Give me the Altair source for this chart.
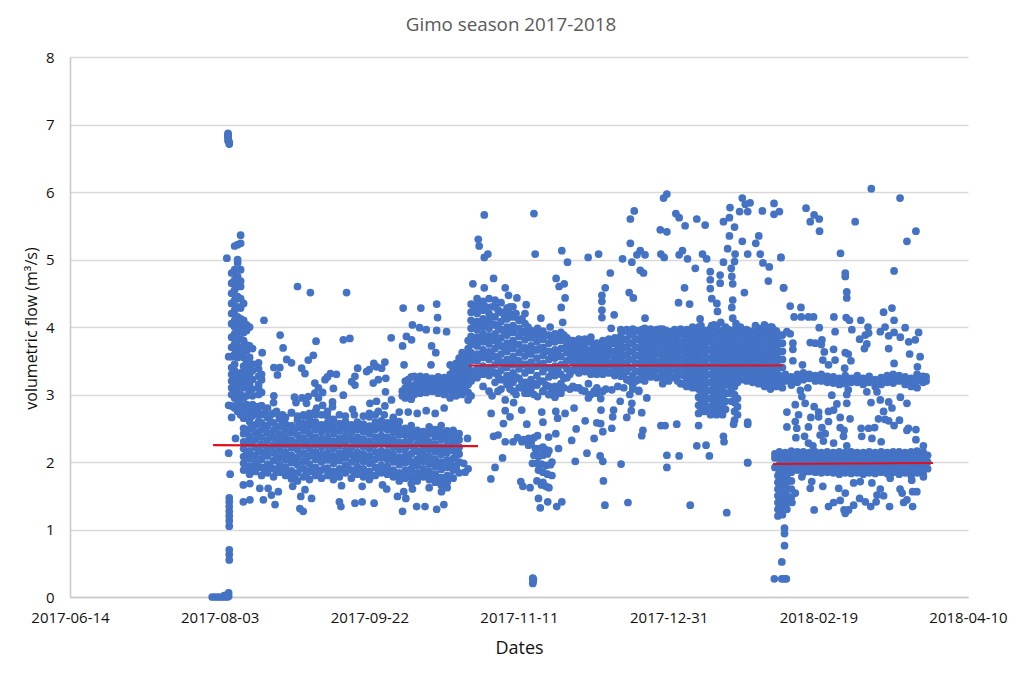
import altair as alt
import pandas as pd

tick_labels = ['2017-06-14','2017-08-03','2017-09-22','2017-11-11','2017-12-31','2018-02-19','2018-04-10']
y_ticks = [0,1,2,3,4,5,6,7,8]

# values: (days since 2017-06-14, [flows])
start_cols = [
 (47.5,[0]),(48.5,[0]),(49.5,[0]),(50.5,[0]),(51.5,[0,0.02]),(52.5,[0,0.03]),(53,[0.01,0.06]),
 (52.8,[6.87,6.85,6.82,6.8,6.76]),(53.2,[6.74,6.71]),
 (53.2,[0.55,0.63,0.7,1.05,1.13,1.2,1.27,1.34,1.41,1.47]),
 (53,[2.13,2.84,3.56]),(53.5,[1.82]),(54,[2.66]),(55.3,[2.35]),(52.4,[5.02]),
 (54,[2.83,3.0,3.1,3.2,3.3,3.4,3.56,3.7,3.85,4.05,4.2,4.35,4.5,4.65,4.8]),
 (55,[2.8,2.95,3.05,3.15,3.25,3.35,3.45,3.6,3.75,3.9,4.0,4.1,4.25,4.4,4.55,4.7,4.85,5.2]),
 (56,[2.75,2.9,3.0,3.1,3.2,3.3,3.55,3.65,3.8,3.92,4.05,4.15,4.3,4.45,4.6,4.75,4.95,5.0,5.22]),
 (57,[2.7,2.85,3.0,3.12,3.22,3.32,3.6,3.7,3.82,3.95,4.0,4.12,4.28,4.42,4.6,4.68,4.85,5.36,5.24]),
 (58,[2.65,2.8,2.95,3.1,3.2,3.3,3.42,3.55,3.65,3.8,3.92,4.0,4.1,4.35]),
 (59,[2.72,2.85,2.98,3.1,3.25,3.35,3.5,3.65,3.73,3.95,4.03]),
 (60,[2.7,2.82,3.02,3.15,3.28,3.38,3.45,3.55,3.72,4.0]),
 (61,[2.75,2.85,2.98,3.08,3.22,3.35,3.45,3.68]),
 (63,[2.72,2.82,3.0,3.1,3.15,3.27,3.38,3.47]),
 (64,[2.7,2.83,3.03,3.22,3.3]),
]
band_a_cols = [
 (58,[1.88,1.98,2.08,2.2,2.3,2.42,2.5]),(60,[1.82,1.94,2.05,2.16,2.27,2.38,2.49,2.6]),
 (62,[1.86,1.99,2.1,2.22,2.33,2.44,2.55]),(64,[1.8,1.92,2.04,2.15,2.26,2.37,2.48,2.58]),
 (66,[1.84,1.97,2.09,2.2,2.32,2.43,2.54,2.66]),(68,[1.78,1.9,2.02,2.14,2.25,2.36,2.47,2.58,2.72]),
 (70,[1.85,1.96,2.07,2.19,2.3,2.41,2.52,2.64]),(72,[1.8,1.92,2.03,2.15,2.26,2.37,2.47,2.56]),
 (74,[1.75,1.87,1.99,2.1,2.21,2.32,2.43,2.54]),(76,[1.72,1.84,1.96,2.07,2.18,2.29,2.4,2.51,2.62]),
 (78,[1.78,1.9,2.01,2.13,2.24,2.35,2.46,2.57,2.68]),(80,[1.74,1.86,1.97,2.09,2.2,2.31,2.42,2.53,2.63]),
 (82,[1.8,1.92,2.04,2.15,2.26,2.37,2.48,2.59,2.7]),(84,[1.76,1.88,2.0,2.11,2.22,2.33,2.44,2.55]),
 (86,[1.8,1.91,2.03,2.14,2.25,2.36,2.47,2.58,2.68]),(88,[1.74,1.86,1.98,2.09,2.2,2.31,2.42,2.53,2.63]),
 (90,[1.78,1.9,2.02,2.13,2.24,2.35,2.46,2.57]),(92,[1.84,1.95,2.06,2.17,2.28,2.39,2.5,2.6]),
 (94,[1.76,1.88,2.0,2.11,2.22,2.33,2.44,2.55]),(96,[1.82,1.93,2.04,2.15,2.26,2.37,2.48,2.59]),
 (98,[1.78,1.9,2.01,2.12,2.23,2.34,2.45,2.56]),(100,[1.74,1.86,1.98,2.09,2.2,2.31,2.42,2.53,2.67]),
 (102,[1.8,1.92,2.04,2.15,2.26,2.37,2.48,2.59,2.7]),(104,[1.84,1.95,2.06,2.17,2.28,2.39,2.5,2.61]),
 (106,[1.82,1.93,2.04,2.15,2.26,2.37,2.48,2.58]),(108,[1.78,1.88,2.0,2.11,2.22,2.33,2.44,2.56,2.63]),
 (110,[1.72,1.84,1.96,2.07,2.18,2.29,2.4,2.5,2.6]),(112,[1.76,1.88,1.99,2.1,2.2,2.3,2.4,2.5]),
 (114,[1.78,1.9,2.0,2.12,2.24,2.35,2.44,2.54]),(116,[1.72,1.84,1.95,2.04,2.16,2.27,2.37,2.47]),
 (118,[1.78,1.9,2.01,2.12,2.22,2.33,2.45]),(120,[1.74,1.86,1.97,2.08,2.19,2.3,2.42,2.52]),
 (122,[1.7,1.82,1.93,2.04,2.15,2.26,2.37,2.48]),(124,[1.66,1.77,1.89,2.0,2.11,2.22,2.33,2.44,2.54]),
 (126,[1.7,1.8,1.92,2.03,2.14,2.25,2.35,2.46]),(128,[1.76,1.88,2.05,2.17,2.28,2.38,2.47]),
 (130,[1.84,2.0,2.12,2.22,2.33,2.42]),
]
band_a_fill = [
 (59,[1.92,2.12,2.3,2.46]),(61,[1.9,2.1,2.32,2.52]),(63,[1.93,2.16,2.38,2.6]),(65,[1.88,2.1,2.26,2.48]),(67,[1.92,2.14,2.38,2.6]),
 (69,[1.86,2.08,2.3,2.52]),(71,[1.9,2.12,2.34,2.58]),(73,[1.84,2.06,2.3,2.5]),(75,[1.8,2.02,2.26,2.48]),(77,[1.9,2.12,2.34,2.56]),
 (79,[1.82,2.06,2.28,2.52]),(81,[1.88,2.12,2.36,2.58]),(83,[1.84,2.08,2.3,2.52]),(85,[1.9,2.1,2.32,2.5]),(87,[1.84,2.08,2.3,2.52]),
 (89,[1.82,2.04,2.28,2.48]),(91,[1.88,2.08,2.3,2.52]),(93,[1.9,2.12,2.34,2.54]),(95,[1.86,2.08,2.3,2.5]),(97,[1.84,2.06,2.28,2.52]),
 (99,[1.84,2.04,2.28,2.5]),(101,[1.8,2.02,2.26,2.48]),(103,[1.88,2.1,2.32,2.54]),(105,[1.88,2.1,2.32,2.56]),(107,[1.84,2.08,2.3,2.52]),
 (109,[1.82,2.06,2.28,2.48]),(111,[1.78,2.02,2.24,2.44]),(113,[1.82,2.05,2.26,2.46]),(115,[1.8,2.0,2.2,2.4]),(117,[1.8,2.08,2.3,2.42]),
 (119,[1.84,2.06,2.26,2.38]),(121,[1.8,2.02,2.24,2.46]),(123,[1.76,1.98,2.2,2.42]),(125,[1.74,1.96,2.18,2.4]),(127,[1.78,1.98,2.2,2.42]),(129,[1.94,2.1,2.3]),
]
a_upper_x = [61,62,63,64,65,66,67,68,69,70,71,72,74,76,78,80,82,84,86,90,92,95,98,100,103,105,108,110,113,116,119,122,125]
a_upper_y = [2.68,2.82,2.7,2.83,2.72,2.8,2.7,2.88,2.75,2.68,2.7,2.66,2.73,2.68,2.7,2.72,2.75,2.7,2.75,2.7,2.68,2.7,2.68,2.72,2.75,2.7,2.66,2.74,2.74,2.72,2.76,2.72,2.8]
a_mid_x = [76.0,80.3,92.4,64.8,70.2,71.2,64.2,82.2,91.3,93.5,81.3,79.6,72.4,74.0,68.1,70.1,69.3,77.4,78.5,87.0,85.2,81.8,88.0,84.4,91.3,81.8,79.6,68.1,75.5,79.0,84.4,87.7,87.7,82.4,74.0,94.4,100.2,102.4,107.4,105.2,105.4,96.1,99.1,101.5,105.2,102.4,104.1,95.2,94.1,95.2,101.3,103.0,105.5,100.0,107.3,111.3,117.2,122.5,122.8,111.1,112.4,114.1,111.6,114.4,116.8,119.0,122.5,125.8,120.8,122.2,120.6,86.0,83.0,83.0,77.5,75.0,89.0]
a_mid_y = [4.6,4.51,4.51,4.1,3.88,3.69,3.62,3.79,3.81,3.83,3.58,3.51,3.52,3.47,3.4,3.4,3.29,3.39,3.31,3.31,3.22,3.17,3.09,3.03,2.99,3.02,2.97,2.98,2.88,2.87,2.84,2.89,2.82,2.8,2.73,2.78,2.87,2.9,2.92,2.83,3.04,3.39,3.34,3.46,3.48,3.41,3.39,3.27,3.19,3.14,3.17,3.22,3.24,3.37,3.84,4.28,4.28,4.34,4.14,3.72,3.86,3.81,3.44,4.03,3.99,3.96,3.95,3.93,3.72,3.62,3.44,3.26,3.1,2.95,2.95,2.96,3.3]
a_ledge_cols = [
 (111,[2.98,3.05]),(112,[2.95,3.1,3.2]),(113,[3.0,3.13,3.22]),(114,[2.93,3.06,3.26]),(115,[3.0,3.14,3.27]),
 (116,[3.07,3.2]),(117,[3.02,3.14,3.27]),(118,[3.08,3.2]),(119,[3.03,3.15,3.26]),(120,[3.09,3.2]),(121,[3.05,3.15,3.24]),(122,[3.08,3.2]),(123,[3.02,3.14,3.26]),(124,[3.07,3.2]),(125,[3.0,3.13,3.25]),
 (126,[3.06,3.18]),(127,[2.95,3.08,3.2,3.3,3.44]),(128,[3.02,3.14,3.26,3.38]),(129,[2.98,3.1,3.22,3.34,3.46]),(130,[3.06,3.18,3.3,3.42,3.54]),(131,[3.0,3.12,3.24,3.36,3.5,3.62]),
 (132,[3.08,3.2,3.32,3.46,3.58]),(133,[2.92,3.03,3.15,3.28,3.4,3.52,3.68,3.8]),
]
a_low_x = [57.9,60.1,64.6,68.5,57.9,60.1,63.4,66.2,69.6,67.3,77.1,80.7,76.8,77.9,74.4,78.5,90.7,97.6,90.0,90.5,95.2,97.6,101.6,104.4,105.8,109.4,111.5,112.2,114.4,111.1,115.8,118.6,122.5,124.9,124.1,126.0,129.0,131.5,132.0,133.0,132.8,129.5,120.0,114.0]
a_low_y = [1.41,1.44,1.44,1.37,1.66,1.68,1.61,1.61,1.56,1.51,1.49,1.46,1.31,1.27,1.64,1.59,1.65,1.64,1.41,1.34,1.39,1.41,1.39,1.66,1.6,1.49,1.56,1.46,1.6,1.27,1.34,1.34,1.3,1.37,1.56,1.62,1.92,1.98,1.85,1.9,2.35,2.14,1.62,1.68]

b_dense_cols = [
 (134,[2.98,3.2,3.35,3.5,3.62,3.74,3.86,3.98,4.1,4.22,4.34]),(136,[3.25,3.38,3.5,3.6,3.72,3.85,3.96,4.08,4.2,4.32,4.42]),
 (138,[3.12,3.3,3.42,3.55,3.66,3.78,3.9,4.0,4.12,4.25,4.38]),(140,[3.05,3.28,3.4,3.52,3.63,3.75,3.87,3.98,4.1,4.2,4.42]),
 (142,[3.18,3.32,3.44,3.56,3.68,3.8,3.9,4.03,4.15,4.3,4.4]),(144,[3.08,3.22,3.36,3.48,3.6,3.72,3.84,3.96,4.08,4.22,4.36]),
 (146,[3.15,3.28,3.4,3.52,3.64,3.76,3.88,4.0,4.12,4.28]),(148,[3.05,3.18,3.32,3.44,3.56,3.68,3.8,3.92,4.02,4.15,4.3]),
 (150,[3.1,3.24,3.38,3.5,3.62,3.74,3.86,3.98,4.1]),(152,[3.02,3.18,3.32,3.45,3.57,3.69,3.81,3.93,4.05,4.2]),
 (154,[3.08,3.22,3.36,3.48,3.6,3.72,3.84,3.95]),(156,[3.14,3.28,3.42,3.54,3.66,3.78,3.88]),
 (158,[3.05,3.2,3.34,3.46,3.58,3.7,3.82,3.94]),(160,[3.0,3.12,3.26,3.4,3.52,3.64,3.76,3.88]),
 (162,[2.98,3.12,3.28,3.42,3.54,3.66,3.78,3.9]),(164,[3.02,3.16,3.3,3.44,3.56,3.68,3.8,3.92]),
 (166,[3.25,3.38,3.5,3.62,3.74,3.84]),(168,[3.12,3.36,3.48,3.6,3.72,3.8]),(170,[3.1,3.32,3.44,3.56,3.68,3.82]),
 (172,[3.05,3.34,3.46,3.58,3.7,3.82]),(174,[3.3,3.42,3.54,3.66,3.78,3.85]),(176,[3.02,3.3,3.42,3.54,3.66,3.76]),
 (178,[3.05,3.3,3.44,3.56,3.68,3.8]),(180,[3.32,3.45,3.57,3.69,3.82]),(182,[3.28,3.4,3.52,3.64,3.76,3.84]),
 (184,[3.27,3.39,3.51,3.63,3.75,3.87,3.96]),(186,[3.22,3.34,3.46,3.58,3.7,3.82,3.96]),(188,[3.14,3.28,3.4,3.52,3.64,3.76,3.88,3.97]),
 (190,[3.06,3.22,3.34,3.46,3.58,3.7,3.82,3.94]),(192,[3.2,3.32,3.44,3.56,3.68,3.8,3.92,3.98]),(194,[3.26,3.38,3.5,3.62,3.74,3.86,3.97]),
 (196,[3.25,3.37,3.49,3.61,3.73,3.85,3.96]),(198,[3.16,3.3,3.42,3.54,3.66,3.78,3.9,3.97]),(200,[3.2,3.33,3.45,3.57,3.69,3.81,3.93]),
 (202,[3.25,3.37,3.49,3.61,3.73,3.85,3.96]),(204,[3.16,3.3,3.42,3.54,3.66,3.78,3.9,3.97]),(206,[3.12,3.24,3.36,3.48,3.6,3.72,3.84,3.96]),
 (208,[3.1,3.22,3.34,3.46,3.58,3.7,3.82,3.94,4.0]),(210,[2.72,2.84,2.96,3.08,3.2,3.32,3.44,3.56,3.68,3.8,3.92,4.0]),
 (212,[2.75,2.88,3.0,3.12,3.24,3.36,3.48,3.6,3.72,3.84,3.95]),(214,[2.7,2.82,2.94,3.06,3.18,3.3,3.42,3.54,3.66,3.78,3.88]),
 (216,[2.7,2.85,2.98,3.1,3.22,3.34,3.46,3.58,3.7,3.8,3.92]),(218,[2.7,2.84,2.96,3.1,3.24,3.36,3.48,3.6,3.72,3.84,3.95]),
 (220,[3.02,3.14,3.26,3.38,3.5,3.62,3.74,3.86,3.96]),(222,[2.62,2.75,2.88,3.0,3.12,3.24,3.36,3.48,3.6,3.72,3.84,3.96]),
 (224,[3.22,3.34,3.46,3.58,3.7,3.82,3.94]),(226,[3.2,3.3,3.42,3.54,3.66,3.78,3.9,3.96]),
 (228,[3.18,3.3,3.42,3.54,3.66,3.78,3.9]),(230,[3.16,3.28,3.4,3.52,3.64,3.76,3.88,3.98]),
 (232,[3.12,3.24,3.36,3.48,3.6,3.72,3.84,3.94]),(234,[3.08,3.2,3.32,3.44,3.56,3.68,3.8,3.92,4.0]),
 (236,[3.12,3.22,3.34,3.46,3.58,3.7,3.82,3.94]),(238,[3.1,3.2,3.4,3.52,3.64,3.76,3.88]),
]
b_fill = [
 (135,[3.3,3.55,3.8,4.05,4.3]),(137,[3.32,3.58,3.82,4.06,4.28]),(139,[3.36,3.6,3.84,4.08,4.3]),(141,[3.34,3.58,3.82,4.04,4.3]),(143,[3.28,3.52,3.76,4.0,4.25]),
 (145,[3.22,3.46,3.7,3.94,4.18]),(147,[3.24,3.48,3.72,3.94,4.2]),(149,[3.26,3.5,3.74,3.97,4.2]),(151,[3.18,3.44,3.68,3.92,4.12]),(153,[3.12,3.38,3.63,3.87,4.0]),
 (155,[3.16,3.42,3.66,3.9]),(157,[3.2,3.44,3.68,3.9]),(159,[3.14,3.4,3.64,3.88]),(161,[3.06,3.32,3.58,3.82]),(163,[3.06,3.36,3.6,3.84]),(165,[3.24,3.44,3.68,3.88]),
 (167,[3.3,3.52,3.68,3.8]),(169,[3.38,3.52,3.66,3.78]),(171,[3.38,3.5,3.62,3.76]),(173,[3.4,3.52,3.64,3.78]),(175,[3.36,3.48,3.6,3.72]),(177,[3.34,3.48,3.62,3.74]),
 (179,[3.36,3.5,3.64,3.76]),(181,[3.34,3.46,3.6,3.76]),(183,[3.33,3.46,3.58,3.72,3.82]),(185,[3.3,3.45,3.57,3.69,3.81,3.94]),(187,[3.2,3.4,3.52,3.64,3.76,3.9]),
 (189,[3.2,3.34,3.46,3.58,3.7,3.82,3.95]),(191,[3.26,3.38,3.5,3.62,3.74,3.86,3.96]),(193,[3.28,3.41,3.53,3.65,3.77,3.89]),(195,[3.3,3.43,3.55,3.67,3.79,3.91]),
 (197,[3.26,3.38,3.5,3.62,3.74,3.86,3.97]),(199,[3.24,3.36,3.48,3.6,3.72,3.84,3.95]),(201,[3.26,3.39,3.51,3.63,3.75,3.87]),(203,[3.2,3.32,3.44,3.56,3.68,3.8,3.92]),
 (205,[3.16,3.28,3.4,3.52,3.64,3.76,3.88]),(207,[3.14,3.28,3.4,3.52,3.64,3.76,3.9]),(209,[3.16,3.28,3.4,3.52,3.64,3.76,3.88]),
 (211,[2.78,2.9,3.02,3.14,3.26,3.38,3.5,3.62,3.74,3.86]),(213,[2.8,2.94,3.06,3.18,3.3,3.42,3.54,3.66,3.78,3.9]),(215,[2.76,2.9,3.02,3.14,3.26,3.38,3.5,3.62,3.74,3.84]),
 (217,[2.78,2.92,3.04,3.16,3.28,3.4,3.52,3.64,3.76,3.86]),(219,[2.78,2.9,3.02,3.16,3.3,3.42,3.54,3.66,3.78,3.9]),(221,[2.9,3.08,3.2,3.32,3.44,3.56,3.68,3.8,3.9]),
 (223,[2.7,2.82,2.94,3.18,3.3,3.42,3.54,3.66,3.78,3.9]),(225,[3.26,3.38,3.52,3.64,3.76,3.88]),(227,[3.24,3.36,3.48,3.6,3.72,3.84,3.94]),(229,[3.22,3.36,3.48,3.6,3.72,3.84,3.94]),
 (231,[3.2,3.34,3.46,3.58,3.7,3.82,3.93]),(233,[3.18,3.3,3.42,3.54,3.66,3.78,3.9]),(235,[3.14,3.26,3.38,3.5,3.62,3.74,3.86,3.96]),(237,[3.16,3.28,3.4,3.52,3.64,3.76,3.88]),
]
b_up_x = [138.4,155.0,136.4,136.7,138.4,139.6,155.4,164.3,166.2,173.1,176.6,180.5,184.6,187.7,188.5,187.2,187.2,190.5,192.1,189.4,190.5,191.6,198.3,199.4,197.2,199.4,202.4,203.5,205.5,209.4,212.2,197.4,198.5,203.5,204.6,206.3,208.9,211.3,212.7,218.3,220.5,220.3,222.0,220.3,219.7,218.3,222.2,222.0,220.9,224.6,227.2,225.6,223.7,226.4,231.3,235.2,235.2,237.0,224.6,229.1,230.1,226.4,230.6,231.5,233.6,233.3,237.5,238.4,225.3,221.1,221.4,213.9,213.9,213.9,217.2,217.2,205.3,203.3,207.0,214.4,216.1,216.3,221.4,221.1,221.4,210.5,217.4,214.4,178.8,177.7,177.7,177.7,177.7,181.8,180.8,186.8,188.2,192.1,162.4,163.4,165.1,165.4,164.1,164.6,157.3,160.4,156.2,134.6,141.5,138.4,145.4,146.5,147.0,149.3,152.4,210.8,214.0,216.0,215.2,222.5,219.0,224.0,229.0,232.0,234.5]
b_up_y = [5.66,5.68,5.3,5.2,5.03,5.08,5.08,5.13,4.96,5.03,5.08,4.8,5.01,4.96,5.72,5.6,5.24,5.13,5.07,5.07,4.84,4.8,5.91,5.97,5.44,5.41,5.68,5.62,5.5,5.6,5.51,5.08,5.03,5.07,5.13,5.01,4.87,5.08,5.01,5.56,5.77,5.62,5.48,5.35,5.16,4.96,5.08,4.97,4.87,5.91,5.84,5.82,5.71,5.71,5.72,5.83,5.67,5.71,5.27,5.24,5.35,5.08,5.08,4.95,4.89,4.68,5.03,4.58,4.51,4.75,4.64,4.82,4.7,4.57,4.77,4.65,4.58,4.36,4.34,4.42,4.35,4.23,4.4,4.29,4.13,4.12,4.07,4.02,4.58,4.47,4.38,4.25,4.14,4.18,3.98,4.51,4.43,4.13,4.72,4.6,4.64,4.43,4.29,4.07,4.13,4.0,3.98,4.64,4.72,4.58,4.58,4.47,4.3,4.43,4.33,4.02,3.98,4.0,4.03,4.05,4.0,4.0,4.02,4.03,4.0]
b_down_x = [140.7,145.4,148.2,145.4,150.9,147.0,144.8,152.6,157.6,158.0,156.2,162.3,162.9,165.4,168.4,172.1,169.1,177.4,181.6,181.3,183.8,187.7,187.5,191.0,177.3,178.0,181.0,175.1,191.4,191.0,197.4,198.8,202.7,210.0,221.7,226.4,173.2,173.2,175.1,177.3,181.0,192.7,141.5,145.4,153.2,153.2,151.5,156.2,159.9,162.3,167.6,144.5,142.0,140.6,150.6,151.3,153.7,156.5,157.1,159.6,162.6,164.3,178.7,186.4,207.2,219.4,178.2,184.1,172.7,168.8,177.1,178.0,163.2,199.4,203.5,199.4,209.4,212.5,213.6,226.4,218.3,218.5,154.6,154.7,154.8,154.6,154.0,155.0,154.0,155.5,156.0,157.0,158.0,159.0,160.0,155.0,156.5,158.0,159.5,161.0,156.0,157.5,159.0,160.5,156.5,158.0,159.5,161.0,154.5,156.0,158.0,157.5,159.0,160.0,148.0,149.5,143.0,151.0,176.0,186.0,188.0,190.0,161.5,163.5,165.0,167.0,169.0,171.0,174.0,176.0,179.0,183.0,185.0,187.0,141.0,143.0,147.0,149.0,151.0,153.0,155.0,158.0,160.0,162.0]
b_down_y = [2.72,2.92,2.88,2.76,2.77,2.67,2.57,2.56,2.74,2.59,2.97,2.75,2.65,2.72,2.8,2.61,2.49,2.77,2.77,2.67,2.9,2.87,2.76,2.73,2.57,2.45,2.5,2.35,2.47,2.39,2.54,2.54,2.56,2.54,2.56,2.59,3.16,2.95,3.05,2.94,3.07,2.95,2.38,2.3,2.35,2.25,2.33,2.39,2.37,2.42,2.32,2.06,1.92,1.75,1.71,1.64,1.62,1.46,1.32,1.41,1.34,1.41,1.36,1.4,1.36,1.25,1.72,1.97,2.13,2.01,2.09,2.01,2.2,2.1,2.09,1.92,2.24,2.25,2.09,1.99,2.38,2.3,0.2,0.23,0.26,0.28,2.3,2.36,2.27,2.2,2.18,2.2,2.22,2.18,2.17,2.1,2.08,2.1,2.12,2.0,1.98,1.97,1.95,1.96,1.88,1.85,1.82,1.8,1.98,1.72,1.7,1.66,1.64,1.62,2.3,2.36,2.4,2.3,2.58,2.66,3.08,3.05,3.0,3.02,3.1,3.08,3.1,3.06,3.0,3.1,3.08,3.12,3.1,3.0,2.98,3.05,3.08,3.0,3.1,3.02,3.0,3.05,3.0,2.96]

c_band_hi_cols = [
 (239,[3.2,3.3]),(241,[3.14,3.26]),(243,[3.18,3.3]),(245,[3.22,3.32]),(247,[3.24,3.3]),(249,[3.2,3.28]),(251,[3.2,3.3]),
 (253,[3.18,3.27]),(255,[3.17,3.26]),(257,[3.15,3.24]),(259,[3.16,3.28]),(261,[3.18,3.24]),(263,[3.18,3.28]),(265,[3.15,3.24]),
 (267,[3.18,3.27]),(269,[3.12,3.22]),(271,[3.15,3.25]),(273,[3.18,3.28]),(275,[3.17,3.3]),(277,[3.2,3.28]),(279,[3.15,3.26]),
 (281,[3.12,3.24]),(283,[3.1,3.2,3.3]),(285,[3.18,3.27]),(286,[3.2,3.26]),
 (240,[3.24]),(242,[3.22]),(244,[3.26]),(246,[3.27]),(248,[3.26]),(250,[3.24]),(252,[3.24]),(254,[3.22]),(256,[3.2]),(258,[3.22]),(260,[3.2]),(262,[3.22]),
 (264,[3.2]),(266,[3.22]),(268,[3.2]),(270,[3.2]),(272,[3.22]),(274,[3.24]),(276,[3.24]),(278,[3.22]),(280,[3.2]),(282,[3.18]),(284,[3.22]),
]
c_band_lo_cols = [
 (235.5,[1.92,2.06,2.12]),(237,[1.85,1.96,2.07,2.15]),(239,[1.87,1.98,2.08,2.14]),(241,[1.85,1.96,2.06,2.16]),
 (243,[1.88,1.98,2.08,2.15]),(245,[1.84,1.95,2.06,2.15]),(247,[1.86,1.97,2.07,2.14]),(249,[1.85,1.96,2.06,2.15]),
 (251,[1.84,1.94,2.05,2.14]),(253,[1.85,1.96,2.07,2.15]),(255,[1.84,1.95,2.05,2.14]),(257,[1.82,1.94,2.05,2.15]),
 (259,[1.84,1.95,2.06,2.14]),(261,[1.83,1.94,2.05,2.15]),(263,[1.84,1.96,2.06,2.14]),(265,[1.82,1.95,2.05,2.14]),
 (267,[1.84,1.94,2.06,2.15]),(269,[1.83,1.95,2.05,2.14]),(271,[1.85,1.96,2.06,2.15]),(273,[1.83,1.94,2.05,2.14]),
 (275,[1.85,1.96,2.07,2.15]),(277,[1.82,1.94,2.05,2.15]),(279,[1.84,1.95,2.06,2.14]),(281,[1.8,1.93,2.04,2.15]),
 (283,[1.84,1.95,2.06,2.16]),(285,[1.82,1.94,2.05,2.15]),(286.5,[1.9,2.0,2.1]),
 (238,[1.9,2.02,2.1]),(240,[1.9,2.01,2.11]),(242,[1.92,2.02,2.12]),(244,[1.9,2.0,2.1]),(246,[1.9,2.02,2.11]),(248,[1.91,2.01,2.1]),(250,[1.89,2.0,2.1]),
 (252,[1.89,2.0,2.1]),(254,[1.9,2.0,2.1]),(256,[1.88,2.0,2.1]),(258,[1.89,2.0,2.1]),(260,[1.88,2.0,2.1]),(262,[1.9,2.0,2.1]),(264,[1.88,2.0,2.1]),
 (266,[1.89,2.0,2.1]),(268,[1.88,2.0,2.1]),(270,[1.9,2.0,2.1]),(272,[1.89,2.0,2.1]),(274,[1.9,2.01,2.1]),(276,[1.88,2.0,2.1]),(278,[1.89,2.0,2.1]),
 (280,[1.87,2.0,2.1]),(282,[1.89,2.0,2.1]),(284,[1.88,2.0,2.1]),
]
c_left_cols = [
 (236.5,[1.2,1.3,1.4,1.5,1.6,1.7,1.8]),(238,[1.22,1.32,1.42,1.52,1.62,1.72,1.82]),(239.5,[1.3,1.4,1.5,1.6,1.7,1.8]),
 (241,[1.48,1.6,1.72]),(238.7,[1.02,0.94,0.76]),(237.8,[0.52,0.27]),(235.3,[0.27]),(239.3,[0.27]),(238.6,[0.27]),
]
c_x = [267.7,277.3,245.9,248.6,250.3,247.3,250.4,262.3,282.6,279.6,257.4,275.3,259.0,259.0,259.5,259.5,237.5,238.4,240.6,244.2,241.9,244.3,246.7,248.4,255.2,259.3,260.4,264.2,271.8,274.6,275.3,250.3,255.6,261.2,266.6,266.8,265.7,263.8,266.2,265.4,270.7,272.3,275.3,273.5,279.0,283.5,277.4,280.2,282.4,273.5,280.5,284.0,275.3,283.1,239.5,240.6,241.5,241.5,241.5,244.7,247.3,249.0,251.2,251.0,252.0,251.5,255.1,255.6,253.4,259.0,260.0,260.9,258.8,244.0,246.5,244.5,245.6,242.3,239.5,243.4,248.6,250.1,250.1,247.5,246.7,242.8,239.5,242.3,254.5,256.2,253.4,255.1,257.3,253.4,251.2,259.5,259.5,260.0,260.6,257.3,258.6,258.4,242.5,245.4,246.7,248.2,250.6,252.3,251.7,255.1,259.5,264.3,266.8,268.8,264.5,267.9,271.0,266.2,269.6,267.6,270.7,273.5,274.6,271.8,270.1,272.3,273.5,275.3,277.1,277.4,279.6,279.6,280.1,282.6,282.6,285.1,244.5,242.3,241.2,248.6,247.3,251.5,247.8,253.4,255.1,257.3,256.8,259.0,261.8,264.0,267.9,259.0,258.6,260.1,261.8,263.8,265.7,267.5,269.3,270.7,271.8,273.8,269.6,274.0,277.3,278.0,278.5,279.6,281.5,281.5,282.9,281.2,285.1,226.4,226.4]
c_y = [6.05,5.91,5.76,5.66,5.6,5.56,5.42,5.56,5.42,5.27,5.09,4.83,4.8,4.75,4.52,4.43,5.03,4.58,4.31,4.29,4.15,4.15,4.15,4.15,4.15,4.14,4.1,4.1,4.22,4.28,4.1,3.99,3.93,3.96,4.0,3.91,3.88,3.82,3.75,3.68,3.93,4.0,3.92,3.87,3.99,3.92,3.85,3.78,3.81,3.68,3.6,3.56,3.46,3.41,3.93,3.9,3.76,3.67,3.5,3.44,3.77,3.76,3.81,3.74,3.63,3.51,3.67,3.51,3.44,3.62,3.6,3.5,3.39,3.06,3.1,2.97,2.87,2.85,2.74,2.7,2.82,2.74,2.67,2.66,2.52,2.5,2.52,2.6,2.99,2.86,2.75,2.77,2.66,2.6,2.51,3.0,2.87,3.07,2.64,2.51,2.47,2.38,2.36,2.38,2.28,2.24,2.4,2.42,2.31,2.28,2.24,2.5,2.5,2.51,2.38,2.35,2.3,3.04,3.04,2.88,2.92,2.89,2.8,2.75,2.64,2.63,2.61,2.54,2.62,2.96,2.87,2.47,2.5,2.48,2.33,2.24,1.78,1.54,1.4,1.29,1.61,1.64,1.71,1.34,1.4,1.43,1.61,1.54,1.69,1.71,1.69,1.24,1.29,1.29,1.36,1.46,1.41,1.34,1.41,1.6,1.5,1.34,1.51,1.76,1.6,1.54,1.4,1.44,1.34,1.56,1.56,1.73,1.78,2.56,1.99]

col_groups = [start_cols, band_a_cols, band_a_fill, a_ledge_cols, b_dense_cols, b_fill, c_band_hi_cols, c_band_lo_cols, c_left_cols]
pair_groups = [(a_upper_x,a_upper_y),(a_mid_x,a_mid_y),(a_low_x,a_low_y),(b_up_x,b_up_y),(b_down_x,b_down_y),(c_x,c_y)]

rows = []
for group in col_groups:
    for d, ys in group:
        rows += [{"day": d, "flow": v} for v in ys]
for xs, ys in pair_groups:
    rows += [{"day": d, "flow": v} for d, v in zip(xs, ys)]
points = pd.DataFrame(rows)

season_day = [47.8,136.3,133.3,238.2,234.9,288.3]
season_avg = [2.25,2.235,3.43,3.43,1.97,1.985]
season_id = ["a","a","b","b","c","c"]
avg = pd.DataFrame({"day": season_day, "flow": season_avg, "season": season_id})

FONT = "Open Sans"
x_scale = alt.Scale(domain=[0, 300], nice=False, zero=False)
y_scale = alt.Scale(domain=[0, 8], nice=False)
label_expr = "[" + ",".join(f"'{t}'" for t in tick_labels) + "][datum.value / 50]"

dots = alt.Chart(points).mark_circle(size=60, color="#4472c4", opacity=1).encode(
    x=alt.X("day:Q", scale=x_scale, axis=alt.Axis(
        values=[0,50,100,150,200,250,300], labelExpr=label_expr, title="Dates", grid=False,
        ticks=False, domainColor="#c8c8c8", domainWidth=1.5, labelFont=FONT, labelFontSize=15,
        labelColor="#111111", labelPadding=13, titleFont=FONT, titleFontSize=18,
        titleFontWeight="normal", titleColor="#111111", titlePadding=14, labelOverlap=False, labelFlush=False)),
    y=alt.Y("flow:Q", scale=y_scale, axis=alt.Axis(
        values=y_ticks, format="d", title="volumetric flow (m³/s)", grid=True, gridColor="#d9d9d9", gridWidth=1.3,
        ticks=False, domainColor="#c8c8c8", domainWidth=1.5, labelFont=FONT, labelFontSize=15,
        labelColor="#111111", labelPadding=16, titleFont=FONT, titleFontSize=16,
        titleFontWeight="normal", titleColor="#111111", titleX=-31, titleY=271)),
)
lines = alt.Chart(avg).mark_line(color="#e0101e", strokeWidth=2.2).encode(
    x=alt.X("day:Q", scale=x_scale), y=alt.Y("flow:Q", scale=y_scale), detail="season:N")

chart = (dots + lines).properties(
    width=898, height=540,
    autosize=alt.AutoSizeParams(type="none"),
    padding={"left": 62, "top": 49, "right": 40, "bottom": 60},
    title=alt.TitleParams("Gimo season 2017-2018", font=FONT, fontSize=18.8, fontWeight="normal",
                          color="#595959", anchor="middle", dx=-8, offset=15),
).configure_view(stroke=None)

chart.save("out.html", embed_options={"renderer": "svg", "actions": False})
